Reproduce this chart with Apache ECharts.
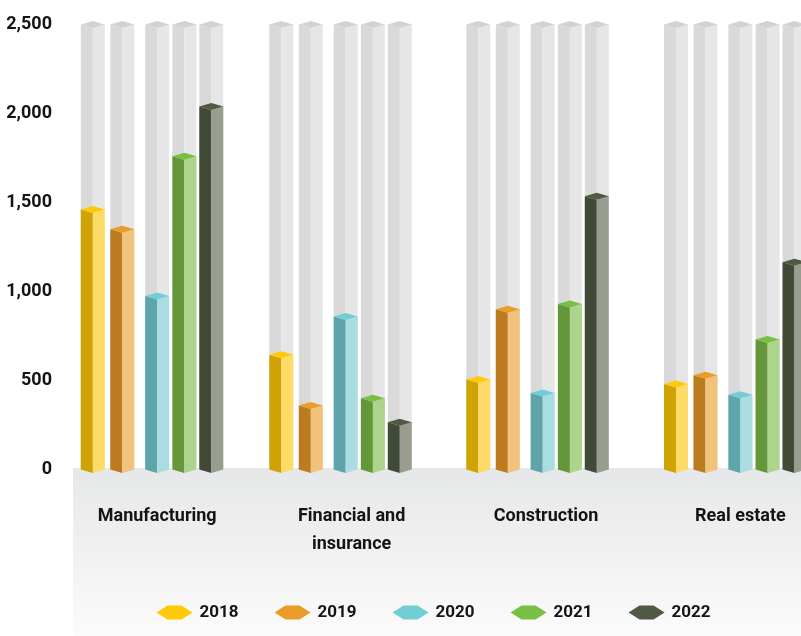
<!DOCTYPE html>
<html>
<head>
<meta charset="utf-8">
<script src="https://cdn.jsdelivr.net/npm/echarts@6/dist/echarts.min.js"></script>
<style>
  html, body { margin: 0; padding: 0; background: #ffffff; }
  #chart { width: 801px; height: 636px; }
</style>
</head>
<body>
<div id="chart"></div>
<script>
// Sectors along the x axis
const categories = ['Manufacturing', 'Financial and\ninsurance', 'Construction', 'Real estate'];

// Yearly values per sector
const years = ['2018', '2019', '2020', '2021', '2022'];
const values2018 = [1460, 645, 505, 480];
const values2019 = [1350, 360, 900, 530];
const values2020 = [975, 860, 430, 420];
const values2021 = [1760, 400, 930, 730];
const values2022 = [2040, 265, 1535, 1165];

// Value axis ticks
const tickValues = [0, 500, 1000, 1500, 2000, 2500];
const tickLabels = ['0', '500', '1,000', '1,500', '2,000', '2,500'];

const seriesValues = [values2018, values2019, values2020, values2021, values2022];

// Face colours of each prism: front-left, front-right, top
const palette = [
  { left: '#cfa304', right: '#fedb66', top: '#ffc90a' },
  { left: '#bc7b1f', right: '#f0c27b', top: '#e99c28' },
  { left: '#5ea5ab', right: '#aadde2', top: '#72cdd5' },
  { left: '#64963a', right: '#acd48d', top: '#79be45' },
  { left: '#404a36', right: '#989d8f', top: '#4f5943' }
];
const ghost = { left: '#d9d9d9', right: '#e6e6e6', top: '#d2d2d2' };

// Layout of the prisms inside a group (px from the group centre)
const BAR_OFFSET = [-64.4, -34.9, 0, 27.2, 54.1];
const GROUP_SHIFT = [0, -5.9, -3.3, 0];
const HALF_W = 12;
const DEPTH = 3.5;
const FONT = "Roboto, 'Liberation Sans', sans-serif";
const Y_MAX = tickValues[tickValues.length - 1];

function prism(cx, yTop, yBase, c) {
  const xl = cx - HALF_W, xr = cx + HALF_W;
  return [
    { type: 'polygon', shape: { points: [[xl, yTop], [cx, yTop + DEPTH], [cx, yBase + DEPTH], [xl, yBase]] }, style: { fill: c.left } },
    { type: 'polygon', shape: { points: [[cx, yTop + DEPTH], [xr, yTop], [xr, yBase], [cx, yBase + DEPTH]] }, style: { fill: c.right } },
    { type: 'polygon', shape: { points: [[xl, yTop], [cx, yTop - DEPTH], [xr, yTop], [cx, yTop + DEPTH]] }, style: { fill: c.top } }
  ];
}

function makeRender(sIdx) {
  return function (params, api) {
    const ci = api.value(0);
    const v = api.value(1);
    const base = api.coord([ci, 0]);
    const top = api.coord([ci, v]);
    const full = api.coord([ci, Y_MAX]);
    const cx = base[0] + BAR_OFFSET[sIdx] + GROUP_SHIFT[ci];
    return {
      type: 'group',
      children: prism(cx, full[1], base[1], ghost).concat(prism(cx, top[1], base[1], palette[sIdx]))
    };
  };
}

const series = years.map(function (y, s) {
  return {
    name: y,
    type: 'custom',
    z: 3,
    renderItem: makeRender(s),
    itemStyle: { color: palette[s].top },
    encode: { x: 0, y: 1 },
    data: seriesValues[s].map(function (v, i) { return [i, v]; })
  };
});

const chart = echarts.init(document.getElementById('chart'), null, { renderer: 'canvas' });
chart.setOption({
  animation: false,
  backgroundColor: '#ffffff',
  graphic: [{
    type: 'rect',
    z: 0,
    silent: true,
    shape: { x: 73, y: 468, width: 728, height: 168 },
    style: {
      fill: new echarts.graphic.LinearGradient(0, 0, 0, 1, [
        { offset: 0, color: '#e6e7e8' },
        { offset: 1, color: '#fbfbfb' }
      ])
    }
  }],
  grid: { left: 60, top: 24.5, width: 777.6, height: 445, outerBoundsMode: 'none', containLabel: false },
  xAxis: {
    type: 'category',
    data: categories,
    boundaryGap: true,
    axisLine: { show: false },
    axisTick: { show: false },
    splitLine: { show: false },
    axisLabel: {
      interval: 0,
      margin: 33,
      color: '#141414',
      fontFamily: FONT,
      fontWeight: 'bold',
      fontSize: 18,
      lineHeight: 28
    }
  },
  yAxis: {
    type: 'value',
    min: 0,
    max: Y_MAX,
    interval: 500,
    axisLine: { show: false },
    axisTick: { show: false },
    splitLine: { show: false },
    axisLabel: {
      margin: 8,
      color: '#141414',
      fontFamily: FONT,
      fontWeight: 'bold',
      fontSize: 18,
      formatter: function (v) {
        const i = tickValues.indexOf(v);
        return i >= 0 ? tickLabels[i] : '';
      }
    }
  },
  legend: {
    data: years,
    left: 151.5,
    top: 599,
    itemWidth: 36,
    itemHeight: 15,
    itemGap: 36,
    icon: 'path://M0,7 L11,0 L25,0 L36,7 L25,14 L11,14 Z',
    textStyle: {
      color: '#141414',
      fontFamily: FONT,
      fontWeight: 'bold',
      fontSize: 17,
      padding: [0, 0, 0, 2]
    }
  },
  series: series
});
</script>
</body>
</html>
